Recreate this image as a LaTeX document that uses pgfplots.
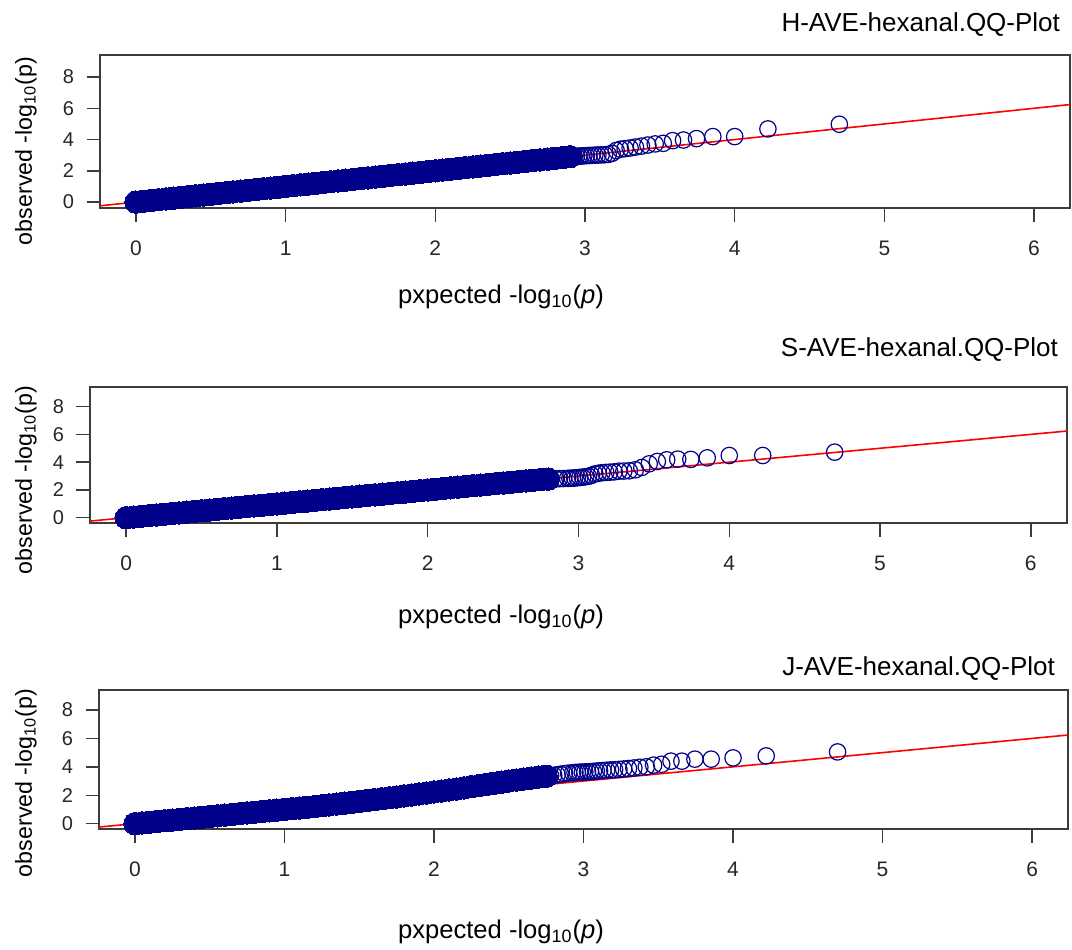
\documentclass[border=0pt]{standalone}
\usepackage{fontspec}
\setmainfont{Liberation Sans}
\usepackage{pgfplots}
\pgfplotsset{compat=1.18}
\usepackage{pgfplotstable}

\definecolor{qqblue}{RGB}{0,0,139}
\definecolor{axgray}{RGB}{60,60,60}
\newcommand{\xticks}{\fontsize{10.5}{12}\selectfont}
\newcommand{\yticks}{\fontsize{10}{12}\selectfont}
\newcommand{\lab}{\fontsize{12.8}{15}\selectfont}
\newcommand{\ttl}{\fontsize{13}{15}\selectfont}
\newcommand{\ylab}{\fontsize{11.6}{14}\selectfont}

% dense part of the three QQ clouds (expected, H, S, J)
\pgfplotstableread{
x    h    s    j
0.00 0.00 0.00 0.00
0.05 0.05 0.05 0.05
0.10 0.10 0.10 0.10
0.15 0.15 0.15 0.15
0.20 0.20 0.20 0.20
0.25 0.25 0.25 0.25
0.30 0.30 0.30 0.30
0.35 0.35 0.35 0.35
0.40 0.40 0.40 0.40
0.45 0.45 0.45 0.45
0.50 0.50 0.50 0.50
0.55 0.55 0.55 0.55
0.60 0.60 0.60 0.60
0.65 0.65 0.65 0.65
0.70 0.70 0.70 0.70
0.75 0.75 0.75 0.75
0.80 0.80 0.80 0.80
0.85 0.85 0.85 0.85
0.90 0.90 0.90 0.90
0.95 0.95 0.95 0.95
1.00 1.00 1.00 1.00
1.05 1.05 1.05 1.05
1.10 1.10 1.10 1.10
1.15 1.15 1.15 1.15
1.20 1.20 1.20 1.20
1.25 1.25 1.25 1.26
1.30 1.30 1.30 1.32
1.35 1.35 1.35 1.38
1.40 1.40 1.40 1.44
1.45 1.45 1.45 1.50
1.50 1.50 1.50 1.56
1.55 1.55 1.55 1.62
1.60 1.60 1.60 1.69
1.65 1.65 1.65 1.75
1.70 1.70 1.70 1.82
1.75 1.75 1.75 1.88
1.80 1.80 1.80 1.95
1.85 1.85 1.85 2.02
1.90 1.90 1.90 2.09
1.95 1.95 1.95 2.16
2.00 2.00 2.00 2.23
2.05 2.05 2.05 2.30
2.10 2.10 2.10 2.37
2.15 2.15 2.15 2.44
2.20 2.20 2.20 2.52
2.25 2.25 2.25 2.60
2.30 2.30 2.30 2.68
2.35 2.35 2.35 2.76
2.40 2.40 2.40 2.84
2.45 2.45 2.45 2.92
2.50 2.50 2.50 3.00
2.55 2.55 2.55 3.07
2.60 2.60 2.60 3.14
2.65 2.65 2.65 3.21
2.70 2.70 2.70 3.28
2.75 2.75 2.75 3.34
2.80 2.80 2.78 nan
2.85 2.85 nan  nan
2.90 2.90 nan  nan
}\band

% upper tail, drawn as open circles
\pgfplotstableread{
x     h    s    j
4.699 4.98 4.72 5.05
4.222 4.68 4.48 4.77
4.000 4.19 4.48 4.63
3.854 4.19 4.31 4.54
3.745 4.06 4.20 4.54
3.658 3.97 4.22 4.40
3.585 3.93 4.17 4.40
3.523 3.76 4.05 4.18
3.469 3.72 3.88 4.12
3.420 3.65 3.62 4.00
3.377 3.58 3.45 3.97
3.337 3.52 3.38 3.92
3.301 3.46 3.36 3.88
3.268 3.42 3.35 3.85
3.237 3.38 3.30 3.82
3.208 3.30 3.28 3.80
3.181 3.12 3.26 3.78
3.155 3.05 3.24 3.76
3.131 3.03 3.20 3.74
3.108 3.02 3.15 3.72
3.086 3.01 3.05 3.70
3.066 3.00 2.98 3.68
3.046 2.99 2.95 3.66
3.027 2.98 2.92 3.65
3.009 2.97 2.90 3.64
2.992 2.96 2.88 3.63
2.975 2.95 2.86 3.62
2.959 2.94 2.85 3.61
2.943 2.93 2.84 3.60
2.928 2.92 2.83 3.58
2.900 nan  2.82 3.56
2.873 nan  2.81 3.52
2.848 nan  2.80 3.48
2.824 nan  nan  3.44
2.801 nan  nan  3.40
2.780 nan  nan  3.37
2.760 nan  nan  3.35
}\tail

\pgfplotsset{
  qq/.style={
    scale only axis, anchor=north west,
    xmin=-0.24, xmax=6.24, ymin=-0.38, ymax=9.41,
    xtick={0,1,2,3,4,5,6}, ytick={0,2,4,6,8},
    tick pos=left, tick align=outside, major tick length=6.75pt,
    axis line style={draw=axgray, line width=0.7pt},
    major tick style={draw=axgray, line width=0.7pt},
    xticklabel style={font=\xticks, text=black!85, anchor=center, yshift=-13.5pt},
    yticklabel style={font=\yticks, text=black!85, anchor=center, xshift=-9pt},
    /pgf/number format/assume math mode=true,
  },
  cloud/.style={only marks, mark=*, mark size=5.6pt,
    mark options={draw=qqblue, fill=qqblue, line width=0pt}},
  tailpts/.style={only marks, mark=o, mark size=4.1pt,
    mark options={draw=qqblue, line width=0.6pt}},
  diag/.style={red, line width=0.8pt},
}

\begin{document}
\begin{tikzpicture}
\useasboundingbox (0,0) rectangle (536pt,-474.5pt);

\begin{axis}[qq, at={(50pt,-27.5pt)}, width=485pt, height=76.5pt]
  \addplot[cloud] table[x=x, y=h] {\band};
  \addplot[tailpts] table[x=x, y=h] {\tail};
  \addplot[diag] coordinates {(-0.3,-0.3) (6.3,6.3)};
\end{axis}

\begin{axis}[qq, at={(45pt,-193.5pt)}, width=488.5pt, height=68pt]
  \addplot[cloud] table[x=x, y=s] {\band};
  \addplot[tailpts] table[x=x, y=s] {\tail};
  \addplot[diag] coordinates {(-0.3,-0.3) (6.3,6.3)};
\end{axis}

\begin{axis}[qq, at={(49.5pt,-345pt)}, width=484.5pt, height=69.5pt]
  \addplot[cloud] table[x=x, y=j] {\band};
  \addplot[tailpts] table[x=x, y=j] {\tail};
  \addplot[diag] coordinates {(-0.3,-0.3) (6.3,6.3)};
\end{axis}

% titles
\node[anchor=east, font=\ttl] at (533.5pt,-12.5pt) {H-AVE-hexanal.QQ-Plot};
\node[anchor=east, font=\ttl] at (532.5pt,-175pt) {S-AVE-hexanal.QQ-Plot};
\node[anchor=east, font=\ttl] at (531pt,-334.5pt) {J-AVE-hexanal.QQ-Plot};
% x labels
\node[font=\lab] at (250.5pt,-148.5pt) {pxpected -log\textsubscript{10}(\textit{p})};
\node[font=\lab] at (250.5pt,-308.5pt) {pxpected -log\textsubscript{10}(\textit{p})};
\node[font=\lab] at (250.5pt,-466pt) {pxpected -log\textsubscript{10}(\textit{p})};
% y labels
\node[rotate=90, font=\ylab] at (13pt,-75.5pt) {observed -log\textsubscript{10}(p)};
\node[rotate=90, font=\ylab] at (13pt,-240pt) {observed -log\textsubscript{10}(p)};
\node[rotate=90, font=\ylab] at (13pt,-391.5pt) {observed -log\textsubscript{10}(p)};
\end{tikzpicture}
\end{document}
